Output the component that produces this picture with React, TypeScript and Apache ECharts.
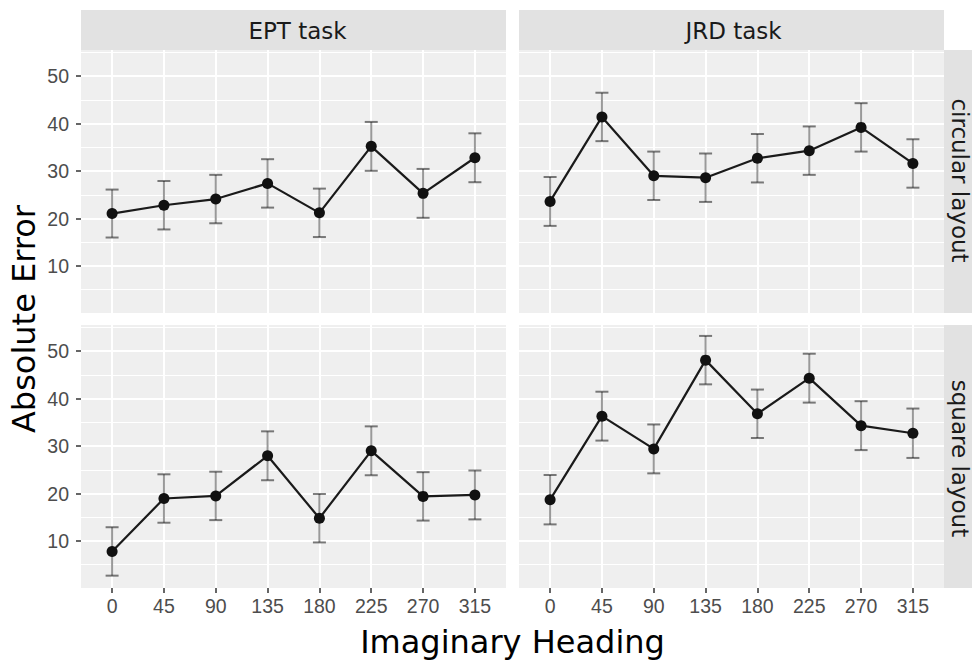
import React, { useEffect, useRef } from 'react';
import * as echarts from 'echarts';

// ---- data ----
const headings = ['0', '45', '90', '135', '180', '225', '270', '315'];
const tasks = ['EPT task', 'JRD task'];
const layouts = ['circular layout', 'square layout'];

const eptCircularMean = [21.05, 22.8, 24.1, 27.4, 21.2, 35.2, 25.3, 32.8];
const eptCircularErr = [5.05, 5.1, 5.1, 5.1, 5.1, 5.15, 5.15, 5.15];
const jrdCircularMean = [23.6, 41.4, 29.0, 28.6, 32.7, 34.3, 39.2, 31.6];
const jrdCircularErr = [5.15, 5.1, 5.1, 5.1, 5.1, 5.1, 5.1, 5.1];
const eptSquareMean = [7.8, 18.95, 19.5, 27.95, 14.8, 29.0, 19.4, 19.7];
const eptSquareErr = [5.1, 5.1, 5.1, 5.15, 5.1, 5.15, 5.1, 5.15];
const jrdSquareMean = [18.7, 36.3, 29.4, 48.1, 36.8, 44.3, 34.3, 32.7];
const jrdSquareErr = [5.2, 5.15, 5.15, 5.1, 5.1, 5.15, 5.15, 5.2];

const yMajorTicks = [10, 20, 30, 40, 50];
const yMinorTicks = [5, 15, 25, 35, 45, 55];
const xAxisTitle = 'Imaginary Heading';
const yAxisTitle = 'Absolute Error';

// panels: [mean, err, col, row]
const panels: [number[], number[], number, number][] = [
  [eptCircularMean, eptCircularErr, 0, 0],
  [jrdCircularMean, jrdCircularErr, 1, 0],
  [eptSquareMean, eptSquareErr, 0, 1],
  [jrdSquareMean, jrdSquareErr, 1, 1],
];

// ---- layout ----
const COL_LEFT = [81, 519];
const PANEL_W = 425;
const ROW_TOP = [50, 325];
const PANEL_H = 263;
const STRIP_H = 40;
const Y_MIN = 0.1;
const Y_MAX = 55.5;
const X_MIN = -0.6;
const X_MAX = 7.6;

const PANEL_BG = '#EFEFEF';
const STRIP_BG = '#E2E2E2';
const TICK_FONT = '"Liberation Sans", Arial, sans-serif';
const TITLE_FONT = '"DejaVu Sans", sans-serif';

export default function App() {
  const ref = useRef<HTMLDivElement>(null);

  useEffect(() => {
    if (!ref.current) return;
    const chart = echarts.init(ref.current, undefined, { renderer: 'svg' });
    const idx = headings.map((_, i) => i);

    const grids: any[] = [];
    const xAxes: any[] = [];
    const yAxes: any[] = [];
    const series: any[] = [];

    panels.forEach(([mean, err, col, row], g) => {
      grids.push({
        left: COL_LEFT[col],
        top: ROW_TOP[row],
        width: PANEL_W,
        height: PANEL_H,
        show: true,
        backgroundColor: PANEL_BG,
        borderWidth: 0,
        containLabel: false,
        outerBoundsMode: 'none',
      });
      const bottomRow = row === 1;
      const leftCol = col === 0;
      xAxes.push({
        type: 'value',
        gridIndex: g,
        min: X_MIN,
        max: X_MAX,
        position: 'bottom',
        axisLine: { show: false, onZero: false },
        axisTick: {
          show: bottomRow,
          customValues: idx,
          length: 5,
          lineStyle: { color: '#333333', width: 1.5 },
        },
        axisLabel: {
          show: bottomRow,
          customValues: idx,
          formatter: (v: number) => headings[Math.round(v)],
          color: '#4D4D4D',
          fontFamily: TICK_FONT,
          fontSize: 19.5,
          margin: 8,
        },
        splitLine: { show: true, lineStyle: { color: '#FFFFFF', width: 2 } },
      });
      // major y axis
      yAxes.push({
        type: 'value',
        gridIndex: g,
        min: Y_MIN,
        max: Y_MAX,
        position: 'left',
        axisLine: { show: false, onZero: false },
        axisTick: {
          show: leftCol,
          customValues: yMajorTicks,
          length: 5,
          lineStyle: { color: '#333333', width: 1.5 },
        },
        axisLabel: {
          show: leftCol,
          customValues: yMajorTicks,
          color: '#4D4D4D',
          fontFamily: TICK_FONT,
          fontSize: 19.5,
          margin: 12,
        },
        splitLine: { show: true, lineStyle: { color: '#FFFFFF', width: 2 } },
      });
      // minor y axis (gridlines only)
      yAxes.push({
        type: 'value',
        gridIndex: g,
        min: Y_MIN,
        max: Y_MAX,
        position: 'right',
        axisLine: { show: false, onZero: false },
        axisTick: { show: false, customValues: yMinorTicks },
        axisLabel: { show: false, customValues: yMinorTicks },
        splitLine: { show: true, lineStyle: { color: '#FFFFFF', width: 1 } },
      });

      const errData = mean.map((m, i) => [i, m - err[i], m + err[i]]);
      series.push({
        type: 'custom',
        xAxisIndex: g,
        yAxisIndex: 2 * g,
        z: 2,
        data: errData,
        encode: { x: 0, y: [1, 2] },
        renderItem: (_p: any, api: any) => {
          const x = api.value(0);
          const lo = api.coord([x, api.value(1)]);
          const hi = api.coord([x, api.value(2)]);
          const half = 6.5;
          return {
            type: 'group',
            children: [
              {
                type: 'line',
                shape: { x1: lo[0], y1: lo[1], x2: hi[0], y2: hi[1] },
                style: { stroke: 'rgba(0,0,0,0.4)', lineWidth: 2 },
              },
              {
                type: 'line',
                shape: { x1: hi[0] - half, y1: hi[1], x2: hi[0] + half, y2: hi[1] },
                style: { stroke: 'rgba(0,0,0,0.5)', lineWidth: 2 },
              },
              {
                type: 'line',
                shape: { x1: lo[0] - half, y1: lo[1], x2: lo[0] + half, y2: lo[1] },
                style: { stroke: 'rgba(0,0,0,0.5)', lineWidth: 2 },
              },
            ],
          };
        },
      });
      series.push({
        type: 'line',
        xAxisIndex: g,
        yAxisIndex: 2 * g,
        z: 3,
        data: mean.map((m, i) => [i, m]),
        symbol: 'circle',
        symbolSize: 11,
        showSymbol: true,
        lineStyle: { color: '#1A1A1A', width: 2.2 },
        itemStyle: { color: '#111111' },
        emphasis: { disabled: true },
      });
    });

    const graphics: any[] = [];
    // top strips
    tasks.forEach((t, c) => {
      graphics.push({
        type: 'rect',
        shape: { x: COL_LEFT[c], y: ROW_TOP[0] - STRIP_H, width: PANEL_W, height: STRIP_H },
        style: { fill: STRIP_BG },
        silent: true,
      });
      graphics.push({
        type: 'text',
        x: COL_LEFT[c] + PANEL_W / 2 + (c === 0 ? 4 : 2),
        y: ROW_TOP[0] - STRIP_H / 2 + 1,
        style: {
          text: t,
          fill: '#1A1A1A',
          font: `23px ${TITLE_FONT}`,
          textAlign: 'center',
          textVerticalAlign: 'middle',
        },
        silent: true,
      });
    });
    // right strips
    layouts.forEach((l, r) => {
      const sx = COL_LEFT[1] + PANEL_W;
      graphics.push({
        type: 'rect',
        shape: { x: sx, y: ROW_TOP[r], width: STRIP_H, height: PANEL_H },
        style: { fill: STRIP_BG },
        silent: true,
      });
      graphics.push({
        type: 'text',
        x: sx + 16,
        y: ROW_TOP[r] + PANEL_H / 2 + (r === 0 ? -1 : 2),
        rotation: -Math.PI / 2,
        style: {
          text: l,
          fill: '#1A1A1A',
          font: `23px ${TITLE_FONT}`,
          textAlign: 'center',
          textVerticalAlign: 'middle',
        },
        silent: true,
      });
    });
    // axis titles
    graphics.push({
      type: 'text',
      x: (COL_LEFT[0] + COL_LEFT[1] + PANEL_W) / 2,
      y: 642,
      style: {
        text: xAxisTitle,
        fill: '#000000',
        font: `32px ${TITLE_FONT}`,
        textAlign: 'center',
        textVerticalAlign: 'middle',
      },
      silent: true,
    });
    graphics.push({
      type: 'text',
      x: 24,
      y: (ROW_TOP[0] + ROW_TOP[1] + PANEL_H) / 2,
      rotation: Math.PI / 2,
      style: {
        text: yAxisTitle,
        fill: '#000000',
        font: `32px ${TITLE_FONT}`,
        textAlign: 'center',
        textVerticalAlign: 'middle',
      },
      silent: true,
    });

    chart.setOption({
      animation: false,
      backgroundColor: '#FFFFFF',
      grid: grids,
      xAxis: xAxes,
      yAxis: yAxes,
      series,
      graphic: graphics,
    });

    return () => chart.dispose();
  }, []);

  return (
    <div
      ref={ref}
      style={{ position: 'fixed', left: 0, top: 0, width: 972, height: 662 }}
    />
  );
}
